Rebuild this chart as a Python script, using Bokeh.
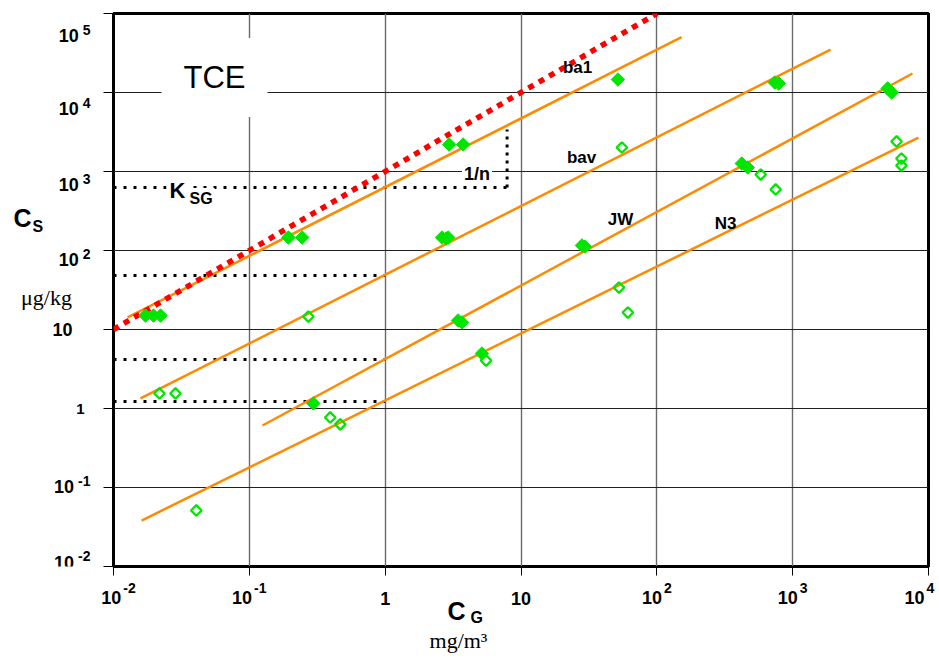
import math
from bokeh.plotting import figure
from bokeh.layouts import column, row
from bokeh.models import Label, FixedTicker, CustomJSTickFormatter, Range1d
from bokeh.embed import file_html
from bokeh.resources import INLINE

# ---------------- data ----------------
x_ticks = [1e-2, 1e-1, 1, 10, 1e2, 1e3, 1e4]
x_tick_base = ["10", "10", "1", "10", "10", "10", "10"]
x_tick_exp = ["-2", "-1", "", "", "2", "3", "4"]
y_ticks = [1e-2, 1e-1, 1, 10, 1e2, 1e3, 1e4, 1e5]
y_tick_base = ["10", "10", "1", "10", "10", "10", "10", "10"]
y_tick_exp = ["-2", "-1", "", "", "2", "3", "4", "5"]

# reference line (slope 1)
ref_x = [0.01, 100]
ref_y = [10, 100000]

# isotherm lines
iso_names = ["ba1", "bav", "JW", "N3"]
iso_x = [[0.0127, 152], [0.0158, 1900], [0.125, 7620], [0.0161, 8430]]
iso_y = [[14.2, 50100], [1.34, 35000], [0.609, 17400], [0.0382, 2690]]
iso_label_x = [26.1, 27.9, 54.1, 321]
iso_label_y = [20700, 1500, 247, 220]

# K lines (intercepts at C_G = 1) and slope triangle
k_values = [627, 48.3, 4.17, 1.23]
k_line_start = [0.01, 0.01, 0.01, 0.01]
k_line_end = [7.9, 1, 1, 1]
slope_x = 7.9
slope_top = 3400

# measured points
filled_x = [0.0172, 0.0197, 0.0222, 0.194, 0.245, 0.296, 2.96, 3.75, 2.62, 2.81, 2.91,
            3.44, 3.68, 5.16, 51.7, 28.1, 29.6, 738, 789, 5000, 5350, 422, 467]
filled_y = [15.0, 15.0, 15.0, 146, 146, 1.16, 2197, 2197, 146, 142, 146,
            13.0, 12.3, 4.97, 14600, 116, 112, 13400, 13000, 11250, 10000, 1262, 1125]
open_x = [0.0218, 0.0286, 0.272, 0.394, 0.467, 0.0407, 5.53, 55.3, 52.6, 61.2,
          5820, 6320, 6320, 582, 750]
open_y = [1.55, 1.55, 14.6, 0.77, 0.63, 0.0512, 4.05, 2013, 34.0, 16.4,
          2400, 1460, 1190, 916, 592]

# ---------------- geometry (page pixels) ----------------
XMIN, XMAX, YMIN, YMAX = 1e-2, 1e4, 1e-2, 1e5
FL, FR, FT, FB = 113, 928, 13, 566          # frame edges on the page
PXX = (FR - FL) / (math.log10(XMAX) - math.log10(XMIN))
PXY = (FB - FT) / (math.log10(YMAX) - math.log10(YMIN))
LEFT_W = 103
TOP_H = 578
TOTAL_W, TOTAL_H = 938, 657
BASE_FS = 18
EXP_FS = 14
BASE_W = 2 * 0.556 * BASE_FS


def X(px):
    return 10 ** (math.log10(XMIN) + (px - FL) / PXX)


def Y(py):
    return 10 ** (math.log10(YMAX) - (py - FT) / PXY)


def px_of_x(v):
    return FL + (math.log10(v) - math.log10(XMIN)) * PXX


def py_of_y(v):
    return FT + (math.log10(YMAX) - math.log10(v)) * PXY


def helper_fig(w, h, x0, x1, y0, y1):
    f = figure(width=w, height=h, x_axis_type="log", y_axis_type="log",
               x_range=Range1d(X(x0), X(x1)), y_range=Range1d(Y(y1), Y(y0)),
               x_axis_location=None, y_axis_location=None,
               output_backend="svg", toolbar_location=None, tools="")
    f.title_location = None
    f.min_border_left = f.min_border_right = 0
    f.min_border_top = f.min_border_bottom = 0
    f.outline_line_color = None
    f.grid.visible = False
    f.background_fill_color = "white"
    f.border_fill_color = "white"
    return f


def lab(f, px, py, text, size, align="left", bold=True, font="Liberation Sans", **kw):
    f.add_layout(Label(x=X(px), y=Y(py), text=text, text_font=font,
                       text_font_size=f"{size}px",
                       text_font_style="bold" if bold else "normal",
                       text_align=align, text_baseline="middle",
                       text_color="black", **kw))


# ---------------- main chart ----------------
p = figure(width=TOTAL_W - LEFT_W, height=TOP_H, x_axis_type="log", y_axis_type="log",
           x_range=Range1d(XMIN, XMAX), y_range=Range1d(YMIN, YMAX),
           output_backend="svg", toolbar_location=None, tools="")
p.title_location = None
p.min_border_left = FL - LEFT_W
p.min_border_right = TOTAL_W - FR
p.min_border_top = FT
p.min_border_bottom = TOP_H - FB
p.background_fill_color = "white"
p.border_fill_color = "white"
p.outline_line_color = "black"
p.outline_line_width = 3

p.xaxis.ticker = FixedTicker(ticks=x_ticks)
p.yaxis.ticker = FixedTicker(ticks=y_ticks)
p.xgrid.ticker = FixedTicker(ticks=x_ticks)
p.ygrid.ticker = FixedTicker(ticks=y_ticks)
for ax in (p.xaxis, p.yaxis):
    ax.formatter = CustomJSTickFormatter(code="return ''")
    ax.major_label_text_font_size = "0px"
    ax.major_label_standoff = 0
    ax.axis_line_color = None
    ax.major_tick_in = 0
    ax.minor_tick_line_color = None
    ax.major_tick_line_color = "black"
    ax.major_tick_line_width = 1
p.xaxis.major_tick_out = 9
p.yaxis.major_tick_out = 10
p.xgrid.grid_line_color = "#6a6a6a"
p.xgrid.grid_line_width = 1.4
p.ygrid.grid_line_color = "#202020"
p.ygrid.grid_line_width = 1

# K dotted lines
p.multi_line(xs=[[s, e] for s, e in zip(k_line_start, k_line_end)],
             ys=[[k, k] for k in k_values],
             line_color="black", line_width=3, line_dash="3 7")
p.line([slope_x, slope_x], [k_values[0], slope_top],
       line_color="black", line_width=3, line_dash="3 5")

# isotherms
p.multi_line(xs=iso_x, ys=iso_y, line_color="#FF8A00", line_width=2.5)

# reference line
p.line(ref_x, ref_y, line_color="#FF0000", line_width=5.5, line_dash="6 6")

# points
p.scatter(filled_x, filled_y, marker="square", size=9.5, angle=math.pi / 4,
          fill_color="#00E600", line_color="#00E600", line_width=1)
p.scatter(open_x, open_y, marker="square", size=7.5, angle=math.pi / 4,
          fill_color=None, line_color="#00E600", line_width=2.3)

# annotations inside the frame
lab(p, 214, 77, "TCE", 31, "center", bold=False,
    background_fill_color="white", padding=22)
lab(p, 476.5, 173.5, "1/n", 18, "center", background_fill_color="white", padding=2)
lab(p, 166, 190, "K", 22, "left", background_fill_color="white", padding=3)
lab(p, 187, 198, "SG", 16, "left", background_fill_color="white", padding=2)
for name, lx, ly in zip(iso_names, iso_label_x, iso_label_y):
    p.add_layout(Label(x=lx, y=ly, text=name, text_font="Liberation Sans",
                       text_font_size="17px", text_font_style="bold",
                       text_align="center", text_baseline="middle", text_color="black"))

# ---------------- left strip: y tick labels and y title ----------------
left = helper_fig(LEFT_W, TOP_H, 0, LEFT_W, 0, TOP_H)


def ew(e):
    return sum(0.333 * EXP_FS if c == "-" else 0.556 * EXP_FS for c in e)


for i, (v, b, e) in enumerate(zip(y_ticks, y_tick_base, y_tick_exp)):
    gy = py_of_y(v)
    if i == len(y_ticks) - 1:
        gy += 2.5
    if e:
        lab(left, 90, gy + 1.5, e, EXP_FS, "right")
        lab(left, 90 - ew(e) - 4, gy + 7.5, b, BASE_FS, "right")
    elif b == "10":
        lab(left, 72, gy + 1, b, BASE_FS, "right")
    else:
        lab(left, 84, gy + 5, b, 15, "right")

lab(left, 13, 213.5, "C", 25, "left")
lab(left, 32, 223, "S", 16, "left")
lab(left, 46, 297, "μg/kg", 22, "center", bold=False, font="Liberation Serif")

# ---------------- bottom strip: x tick labels and x title ----------------
bottom = helper_fig(TOTAL_W, TOTAL_H - TOP_H, 0, TOTAL_W, TOP_H, TOTAL_H)

for i, (v, b, e) in enumerate(zip(x_ticks, x_tick_base, x_tick_exp)):
    gx = px_of_x(v)
    if i == 0:
        gx += 5
    if i == len(x_ticks) - 1:
        gx -= 9
    if e:
        wtot = BASE_W + 2 + ew(e)
        x_left = gx - wtot / 2
        lab(bottom, x_left + BASE_W, 597, b, BASE_FS, "right")
        lab(bottom, x_left + BASE_W + 2, 587, e, EXP_FS, "left")
    else:
        lab(bottom, gx, 598, b, BASE_FS, "center")

lab(bottom, 447, 610, "C", 25, "left")
lab(bottom, 470, 617, "G", 16, "left")
lab(bottom, 458, 640, "mg/m³", 22, "center", bold=False, font="Liberation Serif")

layout = column(row(left, p, spacing=0), bottom, spacing=0)
open("out.html", "w").write(file_html(layout, INLINE))
